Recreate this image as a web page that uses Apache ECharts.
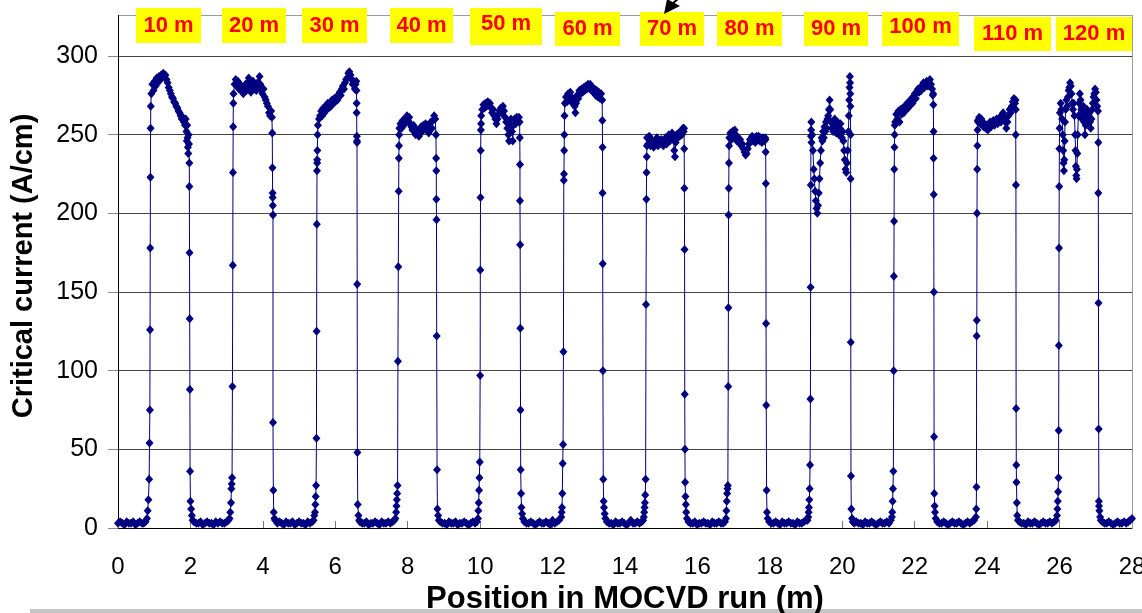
<!DOCTYPE html>
<html>
<head>
<meta charset="utf-8">
<script src="https://cdn.jsdelivr.net/npm/echarts@6/dist/echarts.min.js"></script>
<style>
html, body { margin: 0; padding: 0; background: #fff; }
#chart { width: 1142px; height: 613px; }
</style>
</head>
<body>
<div id="chart"></div>
<script>
// Critical current along the MOCVD run: [position (m), Ic (A/cm)]
// gapN = low readings between pieces, mNN = one tape piece (rise, plateau, fall)
const gap0 = [[0.00,3],[0.06,4],[0.12,3],[0.18,2],[0.24,4],[0.30,3],[0.36,3],[0.42,4],[0.48,2],[0.54,3],[0.60,4],[0.66,3],[0.71,3],[0.76,4]];
const m10 = [[0.80,6],[0.82,11],[0.84,18],[0.86,31],[0.87,54],[0.88,75],[0.885,126],[0.89,178],[0.895,223],[0.90,254],[0.905,268],
  [0.92,276],[0.95,282],[0.98,278],[1.01,284],[1.04,281],[1.07,286],[1.10,283],[1.13,287],[1.16,285],[1.19,288],[1.22,286],[1.25,289],[1.28,287],[1.31,288],[1.34,285],[1.37,283],[1.40,280],[1.43,278],[1.46,276],[1.49,274],[1.52,273],[1.55,271],[1.58,270],[1.61,268],[1.64,267],[1.67,265],[1.70,264],[1.73,262],[1.76,260],[1.79,261],[1.82,258],[1.85,256],[1.87,260],[1.89,252],[1.90,246],[1.91,256],[1.92,248],[1.93,242],[1.94,238],[1.95,250],[1.96,244],
  [1.97,232],[1.97,217],[1.975,175],[1.98,133],[1.985,88],[1.99,36],[2.00,17],[2.02,12],[2.04,8],[2.06,5]];
const gap1 = [[2.10,4],[2.16,3],[2.22,3],[2.28,4],[2.34,2],[2.40,3],[2.46,4],[2.52,3],[2.58,3],[2.64,2],[2.70,4],[2.76,3],[2.82,4],[2.88,3],[2.94,3],[3.00,4],[3.05,5]];
const m20 = [[3.08,6],[3.10,10],[3.12,16],[3.13,25],[3.14,28],[3.15,32],[3.16,90],[3.17,167],[3.175,226],[3.18,255],[3.185,270],
  [3.19,276],[3.22,282],[3.25,285],[3.28,281],[3.31,284],[3.34,279],[3.37,282],[3.40,278],[3.43,280],[3.46,276],[3.49,279],[3.52,282],[3.55,278],[3.58,283],[3.61,286],[3.64,280],[3.67,277],[3.70,281],[3.73,284],[3.76,279],[3.79,282],[3.82,278],[3.85,283],[3.88,280],[3.91,287],[3.93,282],[3.96,278],[3.99,276],[4.02,279],[4.05,274],[4.08,272],[4.11,270],[4.14,268],[4.17,264],[4.20,262],[4.23,265],[4.25,261],
  [4.26,251],[4.265,229],[4.27,213],[4.27,210],[4.275,205],[4.28,199],[4.28,67],[4.29,24],[4.30,10],[4.32,6]];
const gap2 = [[4.34,5],[4.40,3],[4.46,4],[4.52,3],[4.58,2],[4.64,4],[4.70,3],[4.76,3],[4.82,4],[4.88,2],[4.94,3],[5.00,4],[5.06,3],[5.12,3],[5.18,2],[5.24,4],[5.30,3],[5.36,4],[5.40,5]];
const m30 = [[5.42,8],[5.44,10],[5.45,15],[5.46,20],[5.47,27],[5.48,57],[5.485,125],[5.49,193],[5.495,227],[5.50,232],[5.50,234],[5.505,240],[5.51,250],
  [5.52,256],[5.55,260],[5.58,262],[5.61,265],[5.64,262],[5.67,267],[5.70,264],[5.73,268],[5.76,266],[5.79,270],[5.82,267],[5.85,270],[5.88,268],[5.91,272],[5.94,270],[5.97,273],[6.00,271],[6.03,274],[6.06,272],[6.09,275],[6.12,277],[6.15,275],[6.18,279],[6.21,281],[6.24,279],[6.27,283],[6.30,285],[6.33,286],[6.36,289],[6.39,290],[6.42,288],[6.45,285],[6.48,282],[6.51,284],[6.54,279],[6.56,282],
  [6.58,284],[6.585,278],[6.59,270],[6.59,264],[6.595,249],[6.60,246],[6.60,245],[6.605,155],[6.61,48],[6.62,15],[6.64,8],[6.66,5]];
const gap3 = [[6.68,4],[6.74,3],[6.80,3],[6.86,4],[6.92,2],[6.98,3],[7.04,3],[7.10,4],[7.16,3],[7.22,2],[7.28,4],[7.34,3],[7.40,3],[7.46,4],[7.52,3],[7.58,4],[7.63,5]];
const m40 = [[7.66,6],[7.68,10],[7.69,14],[7.70,18],[7.71,22],[7.72,27],[7.73,106],[7.74,166],[7.75,214],[7.755,235],[7.76,243],[7.765,250],
  [7.77,254],[7.80,257],[7.83,254],[7.86,259],[7.89,256],[7.92,260],[7.95,258],[7.98,262],[8.01,259],[8.04,261],[8.07,257],[8.10,255],[8.13,253],[8.16,256],[8.19,252],[8.22,250],[8.25,253],[8.28,251],[8.31,249],[8.34,252],[8.37,255],[8.40,252],[8.43,256],[8.46,254],[8.49,257],[8.52,253],[8.55,256],[8.58,251],[8.61,255],[8.64,258],[8.67,254],[8.70,259],[8.73,262],[8.76,260],
  [8.78,250],[8.785,235],[8.79,227],[8.79,209],[8.795,196],[8.80,122],[8.81,37],[8.82,12],[8.84,8],[8.86,5]];
const gap4 = [[8.90,4],[8.96,3],[9.02,3],[9.08,2],[9.14,4],[9.20,3],[9.26,3],[9.32,4],[9.38,2],[9.44,3],[9.50,3],[9.56,4],[9.62,3],[9.68,2],[9.74,3],[9.80,4],[9.86,3],[9.91,4]];
const m50 = [[9.94,6],[9.95,11],[9.96,16],[9.97,24],[9.98,32],[9.99,42],[10.00,97],[10.005,164],[10.01,210],[10.015,240],[10.02,253],[10.025,257],
  [10.03,262],[10.06,266],[10.09,269],[10.12,267],[10.15,270],[10.18,268],[10.21,271],[10.24,269],[10.27,270],[10.30,267],[10.33,264],[10.36,266],[10.39,262],[10.42,260],[10.45,257],[10.48,260],[10.51,263],[10.54,265],[10.57,267],[10.60,264],[10.63,268],[10.66,265],[10.69,261],[10.72,258],[10.75,254],[10.78,250],[10.80,246],[10.82,256],[10.85,260],[10.88,252],[10.90,246],[10.92,256],[10.95,260],[10.98,257],[11.01,261],[11.04,258],[11.07,261],
  [11.09,258],[11.095,248],[11.10,231],[11.10,208],[11.105,180],[11.11,127],[11.115,75],[11.12,37],[11.13,22],[11.14,13],[11.16,9],[11.18,6]];
const gap5 = [[11.22,4],[11.28,3],[11.34,3],[11.40,4],[11.46,3],[11.52,2],[11.58,3],[11.64,4],[11.70,3],[11.76,3],[11.82,4],[11.88,3],[11.94,2],[12.00,5],[12.06,3],[12.12,4],[12.18,5]];
const m60 = [[12.24,7],[12.25,10],[12.26,13],[12.27,22],[12.28,41],[12.29,53],[12.30,112],[12.31,221],[12.315,225],[12.32,240],[12.325,250],[12.33,262],
  [12.34,270],[12.37,274],[12.40,271],[12.43,276],[12.46,273],[12.49,277],[12.52,274],[12.55,270],[12.58,272],[12.61,268],[12.63,264],[12.65,270],[12.68,275],[12.71,273],[12.74,278],[12.77,276],[12.80,279],[12.83,277],[12.86,280],[12.89,278],[12.92,281],[12.95,279],[12.98,282],[13.01,280],[13.04,282],[13.07,278],[13.10,280],[13.13,277],[13.16,279],[13.19,275],[13.22,278],[13.25,274],[13.28,277],[13.31,273],[13.34,276],
  [13.37,272],[13.375,259],[13.38,242],[13.38,213],[13.385,168],[13.39,100],[13.40,31],[13.41,17],[13.42,13],[13.44,9],[13.46,6]];
const gap6 = [[13.50,4],[13.56,3],[13.62,3],[13.68,2],[13.74,4],[13.80,3],[13.86,3],[13.92,4],[13.98,3],[14.04,2],[14.10,3],[14.16,5],[14.22,3],[14.28,3],[14.34,4],[14.40,3],[14.46,4],[14.50,5]];
const m70 = [[14.52,7],[14.53,10],[14.54,13],[14.55,16],[14.56,21],[14.57,31],[14.58,142],[14.59,209],[14.595,226],[14.60,236],[14.605,243],
  [14.61,248],[14.64,244],[14.67,249],[14.70,243],[14.73,247],[14.76,245],[14.79,242],[14.82,246],[14.85,244],[14.88,248],[14.91,243],[14.94,246],[14.97,244],[15.00,247],[15.03,245],[15.06,243],[15.09,246],[15.12,248],[15.15,244],[15.18,247],[15.21,250],[15.24,246],[15.27,249],[15.30,251],[15.33,247],[15.36,240],[15.38,236],[15.40,245],[15.42,250],[15.45,248],[15.48,251],[15.51,249],[15.54,252],[15.57,250],[15.60,254],[15.62,252],
  [15.63,254],[15.635,241],[15.64,216],[15.645,177],[15.65,85],[15.655,50],[15.66,29],[15.67,20],[15.68,15],[15.69,10],[15.71,6]];
const gap7 = [[15.75,4],[15.81,3],[15.87,3],[15.93,4],[15.99,2],[16.05,3],[16.11,3],[16.17,4],[16.23,3],[16.29,3],[16.35,2],[16.41,4],[16.47,3],[16.53,3],[16.59,4],[16.65,3],[16.71,3],[16.76,4]];
const m80 = [[16.79,6],[16.80,11],[16.81,17],[16.82,22],[16.83,25],[16.84,27],[16.85,90],[16.855,140],[16.86,199],[16.865,216],[16.87,232],[16.875,243],
  [16.88,248],[16.91,251],[16.94,247],[16.97,252],[17.00,249],[17.03,253],[17.06,250],[17.09,246],[17.12,248],[17.15,245],[17.18,247],[17.21,243],[17.24,244],[17.27,241],[17.30,239],[17.33,237],[17.36,238],[17.39,241],[17.42,244],[17.45,247],[17.48,246],[17.51,249],[17.54,246],[17.57,248],[17.60,245],[17.63,249],[17.66,247],[17.69,249],[17.72,246],[17.75,248],[17.78,245],[17.81,248],[17.84,246],[17.87,248],
  [17.88,247],[17.885,239],[17.89,219],[17.895,130],[17.90,78],[17.91,24],[17.92,10],[17.94,6]];
const gap8 = [[17.98,4],[18.04,3],[18.10,3],[18.16,4],[18.22,3],[18.28,2],[18.34,4],[18.40,3],[18.46,3],[18.52,4],[18.58,3],[18.64,3],[18.70,2],[18.76,4],[18.82,3],[18.88,3],[18.94,4],[19.00,5],[19.04,5]];
const m90 = [[19.06,7],[19.07,10],[19.08,13],[19.09,18],[19.10,25],[19.11,40],[19.12,82],[19.125,153],[19.13,218],[19.135,249],[19.14,253],[19.145,258],
  [19.15,245],[19.17,250],[19.19,240],[19.21,228],[19.23,222],[19.25,214],[19.27,208],[19.29,203],[19.31,200],[19.33,205],[19.35,213],[19.37,222],[19.39,232],[19.41,240],[19.43,248],[19.45,246],[19.47,252],[19.49,248],[19.51,255],[19.53,252],[19.55,258],[19.57,254],[19.59,260],[19.61,262],[19.63,266],[19.65,272],[19.67,266],[19.69,258],[19.71,254],[19.73,257],[19.75,252],[19.77,256],[19.79,260],[19.81,255],[19.83,251],[19.85,254],[19.87,258],[19.89,253],[19.91,250],[19.93,254],[19.95,257],[19.97,252],[19.99,248],[20.01,252],[20.03,246],[20.05,240],[20.07,234],[20.09,228],[20.11,226],[20.13,232],[20.15,240],[20.17,252],[20.18,262],[20.19,272],[20.20,280],[20.21,287],[20.215,283],[20.22,276],[20.225,268],
  [20.23,250],[20.23,222],[20.235,118],[20.24,33],[20.25,12],[20.27,6],[20.29,4]];
const gap9 = [[20.33,3],[20.39,4],[20.45,3],[20.51,3],[20.57,2],[20.63,4],[20.69,3],[20.75,3],[20.81,4],[20.87,3],[20.93,2],[20.99,3],[21.05,4],[21.11,3],[21.17,3],[21.23,4],[21.29,3],[21.34,5]];
const m100 = [[21.37,7],[21.38,10],[21.39,17],[21.40,25],[21.41,36],[21.42,100],[21.425,160],[21.43,195],[21.435,228],[21.44,242],[21.445,250],[21.45,256],
  [21.46,258],[21.49,263],[21.52,260],[21.55,265],[21.58,258],[21.61,266],[21.64,263],[21.67,267],[21.70,264],[21.73,268],[21.76,266],[21.79,270],[21.82,267],[21.85,271],[21.88,269],[21.91,273],[21.94,270],[21.97,274],[22.00,276],[22.03,273],[22.06,277],[22.09,279],[22.12,277],[22.15,280],[22.18,278],[22.21,281],[22.24,283],[22.27,280],[22.30,282],[22.33,284],[22.36,281],[22.39,283],[22.42,285],[22.45,282],[22.48,279],[22.50,275],
  [22.51,276],[22.515,269],[22.52,252],[22.52,235],[22.525,212],[22.53,150],[22.535,58],[22.54,22],[22.55,14],[22.56,10],[22.58,6]];
const gap10 = [[22.62,4],[22.68,3],[22.74,3],[22.80,4],[22.86,3],[22.92,2],[22.98,3],[23.04,4],[23.10,3],[23.16,3],[23.22,4],[23.28,3],[23.34,2],[23.40,3],[23.46,4],[23.52,3],[23.58,4],[23.64,5]];
const m110 = [[23.69,7],[23.70,12],[23.705,26],[23.71,122],[23.715,132],[23.72,200],[23.725,228],[23.73,243],[23.735,253],[23.74,259],
  [23.75,258],[23.78,261],[23.81,257],[23.84,260],[23.87,258],[23.90,255],[23.93,257],[23.96,254],[23.99,256],[24.02,253],[24.05,256],[24.08,258],[24.11,255],[24.14,257],[24.17,259],[24.20,256],[24.23,258],[24.26,260],[24.29,257],[24.32,259],[24.35,261],[24.38,258],[24.41,262],[24.44,264],[24.47,261],[24.50,258],[24.53,254],[24.56,258],[24.59,262],[24.62,266],[24.65,264],[24.68,268],[24.71,271],[24.74,273],[24.77,270],
  [24.785,272],[24.79,266],[24.79,250],[24.795,218],[24.80,76],[24.805,40],[24.81,29],[24.82,16],[24.83,8],[24.85,5]];
const gap11 = [[24.89,4],[24.95,3],[25.01,3],[25.07,2],[25.13,4],[25.19,3],[25.25,3],[25.31,4],[25.37,3],[25.43,2],[25.49,3],[25.55,4],[25.61,3],[25.67,3],[25.73,4],[25.79,3],[25.85,4],[25.90,5]];
const m120 = [[25.93,8],[25.94,12],[25.95,17],[25.96,23],[25.97,32],[25.975,62],[25.98,116],[25.985,178],[25.99,217],[25.995,241],[26.00,254],
  [26.01,264],[26.03,270],[26.05,266],[26.07,260],[26.09,250],[26.10,240],[26.11,232],[26.12,227],[26.13,234],[26.14,246],[26.15,258],[26.17,266],[26.19,272],[26.21,268],[26.23,274],[26.25,278],[26.27,280],[26.29,283],[26.31,281],[26.33,276],[26.35,270],[26.37,266],[26.39,270],[26.41,262],[26.43,250],[26.44,240],[26.45,230],[26.46,224],[26.47,222],[26.48,228],[26.49,238],[26.50,250],[26.52,262],[26.54,270],[26.56,276],[26.58,272],[26.60,266],[26.62,260],[26.64,264],[26.66,268],[26.68,258],[26.70,250],[26.72,256],[26.74,262],[26.76,266],[26.78,262],[26.80,258],[26.82,264],[26.84,258],[26.86,254],[26.88,260],[26.90,266],[26.92,270],[26.94,274],[26.96,276],[26.98,279],[27.00,277],[27.02,272],[27.04,268],[27.06,265],
  [27.07,245],[27.07,213],[27.075,143],[27.08,63],[27.085,17],[27.09,14],[27.10,11],[27.12,7],[27.14,5]];
const gap12 = [[27.18,4],[27.24,3],[27.30,3],[27.36,4],[27.42,3],[27.48,2],[27.54,3],[27.60,4],[27.66,3],[27.72,3],[27.78,4],[27.84,3],[27.90,4],[27.95,5],[28.00,6]];

// Tape piece tags shown along the top
const pieceLabels = ['10 m', '20 m', '30 m', '40 m', '50 m', '60 m', '70 m', '80 m', '90 m', '100 m', '110 m', '120 m'];

const run = [].concat(gap0, m10, gap1, m20, gap2, m30, gap3, m40, gap4, m50, gap5, m60,
  gap6, m70, gap7, m80, gap8, m90, gap9, m100, gap10, m110, gap11, m120, gap12);

const FONT = '"Liberation Sans", Arial, sans-serif';
const NAVY = '#000080';

// Tag boxes: left, top, width, height
const tagBoxes = [
  [136, 8, 65, 35], [222, 8, 64, 35], [302, 8, 65, 35], [390, 8, 63, 35],
  [470, 8, 72, 37], [555, 12, 65, 34], [640, 12, 64, 34], [717, 12, 65, 34],
  [804, 12, 64, 34], [882, 12, 77, 34], [974, 17, 77, 34], [1056, 17, 76, 34]
];
const tagTextDy = [0, 0, 0, 0, -3, 0, 0, 0, 0, -2, 0, 0];

const graphics = [];
pieceLabels.forEach(function (label, i) {
  const b = tagBoxes[i];
  graphics.push({
    type: 'rect', left: b[0], top: b[1], z: 10,
    shape: { width: b[2], height: b[3] },
    style: { fill: '#ffff00' }
  });
  graphics.push({
    type: 'text', z: 11,
    x: b[0] + b[2] / 2, y: b[1] + b[3] / 2 + tagTextDy[i],
    style: {
      text: label, fill: '#ff0000', font: 'bold 22px ' + FONT,
      align: 'center', verticalAlign: 'middle'
    }
  });
});
// arrow head pointing at the 70 m tag
graphics.push({
  type: 'polygon', z: 12,
  shape: { points: [[664, 14], [667, -1], [680, 6]] },
  style: { fill: '#000' }
});
graphics.push({
  type: 'line', z: 12,
  shape: { x1: 672, y1: 4, x2: 686, y2: -8 },
  style: { stroke: '#000', lineWidth: 2 }
});
// plot frame above the 300 line and on the right
graphics.push({ type: 'line', z: 1, shape: { x1: 118, y1: 15.5, x2: 1132, y2: 15.5 }, style: { stroke: '#9a9a9a', lineWidth: 1 } });
graphics.push({ type: 'line', z: 1, shape: { x1: 1132.5, y1: 15, x2: 1132.5, y2: 528 }, style: { stroke: '#9a9a9a', lineWidth: 1 } });
graphics.push({ type: 'line', z: 1, shape: { x1: 118.5, y1: 15, x2: 118.5, y2: 57 }, style: { stroke: '#000', lineWidth: 1 } });
// bottom rule of the page
graphics.push({ type: 'rect', left: 30, top: 609, shape: { width: 1112, height: 4 }, style: { fill: '#c4c4c4' } });

const chart = echarts.init(document.getElementById('chart'), null, { renderer: 'canvas' });
chart.setOption({
  animation: false,
  backgroundColor: '#fff',
  grid: { left: 118, top: 56, width: 1014, height: 472, containLabel: false, outerBoundsMode: 'none' },
  xAxis: {
    type: 'value', min: 0, max: 28, interval: 2,
    name: 'Position in MOCVD run (m)', nameLocation: 'middle', nameGap: 55,
    nameTextStyle: { fontFamily: FONT, fontWeight: 'bold', fontSize: 31, color: '#000' },
    axisLine: { show: true, lineStyle: { color: '#000', width: 1 } },
    axisTick: { show: true, inside: true, length: 7, lineStyle: { color: '#777' } },
    axisLabel: { fontFamily: FONT, fontSize: 24, color: '#000', margin: 27 },
    splitLine: { show: false }
  },
  yAxis: {
    type: 'value', min: 0, max: 300, interval: 50,
    name: 'Critical current (A/cm)', nameLocation: 'middle', nameGap: 80,
    nameTextStyle: { fontFamily: FONT, fontWeight: 'bold', fontSize: 29, color: '#000', padding: [0, 0, 0, 52] },
    axisLine: { show: true, lineStyle: { color: '#000', width: 1 } },
    axisTick: { show: true, inside: false, length: 10, lineStyle: { color: '#888' } },
    axisLabel: { fontFamily: FONT, fontSize: 25, color: '#000', margin: 20 },
    splitLine: { show: true, lineStyle: { color: '#444', width: 1 } }
  },
  series: [{
    type: 'line',
    data: run,
    showAllSymbol: true,
    symbol: 'diamond',
    symbolSize: [8, 9],
    itemStyle: { color: NAVY },
    lineStyle: { color: NAVY, width: 1 },
    emphasis: { disabled: true },
    z: 5
  }],
  graphic: graphics
});
</script>
</body>
</html>
